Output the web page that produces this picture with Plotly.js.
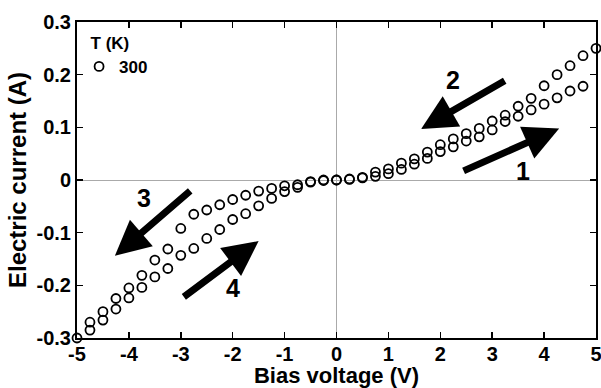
<!DOCTYPE html>
<html>
<head>
<meta charset="utf-8">
<script src="https://cdn.plot.ly/plotly-3.0.1.min.js"></script>
<style>html,body{margin:0;padding:0;background:#fff;}#chart{width:601px;height:388px;}</style>
</head>
<body>
<div id="chart"></div>
<script>
// Sweep 1: 0 -> 5 V
const sweep1V = [0, 0.25, 0.5, 0.75, 1.0, 1.25, 1.5, 1.75, 2.0, 2.25, 2.5, 2.75, 3.0, 3.25, 3.5, 3.75, 4.0, 4.25, 4.5, 4.75];
const sweep1I = [0, 0.001, 0.004, 0.007, 0.012, 0.020, 0.030, 0.041, 0.054, 0.063, 0.074, 0.082, 0.095, 0.111, 0.121, 0.133, 0.144, 0.156, 0.169, 0.178];
// Sweep 2: 5 -> 0 V
const sweep2V = [5.0, 4.75, 4.5, 4.25, 4.0, 3.75, 3.5, 3.25, 3.0, 2.75, 2.5, 2.25, 2.0, 1.75, 1.5, 1.25, 1.0, 0.75, 0.5, 0.25];
const sweep2I = [0.250, 0.236, 0.217, 0.200, 0.179, 0.155, 0.140, 0.123, 0.112, 0.098, 0.088, 0.078, 0.067, 0.053, 0.040, 0.032, 0.021, 0.015, 0.005, 0.002];
// Sweep 3: 0 -> -5 V
const sweep3V = [0, -0.25, -0.5, -0.75, -1.0, -1.25, -1.5, -1.75, -2.0, -2.25, -2.5, -2.75, -3.0, -3.25, -3.5, -3.75, -4.0, -4.25, -4.5, -4.75, -5.0];
const sweep3I = [0, 0, -0.003, -0.009, -0.011, -0.016, -0.021, -0.029, -0.037, -0.047, -0.057, -0.065, -0.092, -0.131, -0.152, -0.181, -0.205, -0.225, -0.250, -0.270, -0.300];
// Sweep 4: -5 -> 0 V
const sweep4V = [-4.75, -4.5, -4.25, -4.0, -3.75, -3.5, -3.25, -3.0, -2.75, -2.5, -2.25, -2.0, -1.75, -1.5, -1.25, -1.0, -0.75, -0.5, -0.25];
const sweep4I = [-0.285, -0.266, -0.245, -0.224, -0.204, -0.184, -0.168, -0.143, -0.130, -0.111, -0.094, -0.075, -0.064, -0.049, -0.035, -0.022, -0.014, -0.004, -0.001];

const xTickVals = [-5, -4, -3, -2, -1, 0, 1, 2, 3, 4, 5];
const xTickText = ["-5", "-4", "-3", "-2", "-1", "0", "1", "2", "3", "4", "5"];
const yTickVals = [-0.3, -0.2, -0.1, 0, 0.1, 0.2, 0.3];
const yTickText = ["-0.3", "-0.2", "-0.1", "0", "0.1", "0.2", "0.3"];
const seriesName = "300";
const legendTitle = "T (K)";
const arrowLabels = ["1", "2", "3", "4"];

const FONT = "Liberation Sans, Arial, Helvetica, sans-serif";

const trace = {
  x: [].concat(sweep1V, sweep2V, sweep3V, sweep4V),
  y: [].concat(sweep1I, sweep2I, sweep3I, sweep4I),
  type: "scatter",
  mode: "markers",
  name: seriesName,
  showlegend: true,
  cliponaxis: false,
  marker: {symbol: "circle-open", size: 9, color: "#000", line: {width: 1.8, color: "#000"}},
  hoverinfo: "x+y"
};

function arrow(hx, hy, tx, ty) {
  return {x: hx, y: hy, ax: tx, ay: ty, xref: "x", yref: "y", axref: "x", ayref: "y",
    text: "", showarrow: true, arrowhead: 2, arrowsize: 1.0, arrowwidth: 7,
    arrowcolor: "#000", standoff: 0, startstandoff: 0};
}
function label(t, x, y) {
  return {x: x, y: y, xref: "x", yref: "y", text: t, showarrow: false,
    font: {family: FONT, size: 25, color: "#000", weight: 700}};
}

const layout = {
  width: 601, height: 388,
  margin: {l: 77, r: 5, t: 22, b: 50, pad: 0},
  paper_bgcolor: "#fff", plot_bgcolor: "#fff",
  showlegend: true,
  legend: {x: 0.004, y: 0.985, xanchor: "left", yanchor: "top", bgcolor: "rgba(0,0,0,0)",
    borderwidth: 0, itemwidth: 30, tracegroupgap: 0,
    title: {text: "\u00a0\u00a0" + legendTitle, font: {family: FONT, size: 17, color: "#000", weight: 700}},
    font: {family: FONT, size: 17, color: "#000", weight: 700}},
  xaxis: {
    range: [-5, 5], tickvals: xTickVals, ticktext: xTickText,
    ticks: "inside", ticklen: 6, tickwidth: 1.5, tickcolor: "#000",
    showline: true, linecolor: "#000", linewidth: 2, mirror: "ticks",
    showgrid: false, zeroline: true, zerolinecolor: "#aaa", zerolinewidth: 1,
    ticklabeloverflow: "allow", ticklabelstandoff: -3,
    tickfont: {family: FONT, size: 20, color: "#000", weight: 700},
    title: {text: "Bias voltage (V)", standoff: 4, font: {family: FONT, size: 22, color: "#000", weight: 700}}
  },
  yaxis: {
    range: [-0.3, 0.3], tickvals: yTickVals, ticktext: yTickText,
    ticks: "inside", ticklen: 6, tickwidth: 1.5, tickcolor: "#000",
    showline: true, linecolor: "#000", linewidth: 2, mirror: "ticks",
    showgrid: false, zeroline: true, zerolinecolor: "#aaa", zerolinewidth: 1,
    ticklabeloverflow: "allow",
    tickfont: {family: FONT, size: 20, color: "#000", weight: 700},
    title: {text: "Electric current (A)", standoff: 3, font: {family: FONT, size: 24, color: "#000", weight: 700}}
  },
  annotations: [
    arrow(4.29, 0.098, 2.42, 0.016),
    arrow(1.63, 0.097, 3.27, 0.190),
    arrow(-4.27, -0.144, -2.79, -0.018),
    arrow(-1.50, -0.116, -2.97, -0.224),
    label(arrowLabels[0], 3.6, 0.017),
    label(arrowLabels[1], 2.25, 0.190),
    label(arrowLabels[2], -3.71, -0.034),
    label(arrowLabels[3], -2.0, -0.205)
  ]
};

Plotly.newPlot("chart", [trace], layout, {displayModeBar: false, staticPlot: true});
</script>
</body>
</html>
